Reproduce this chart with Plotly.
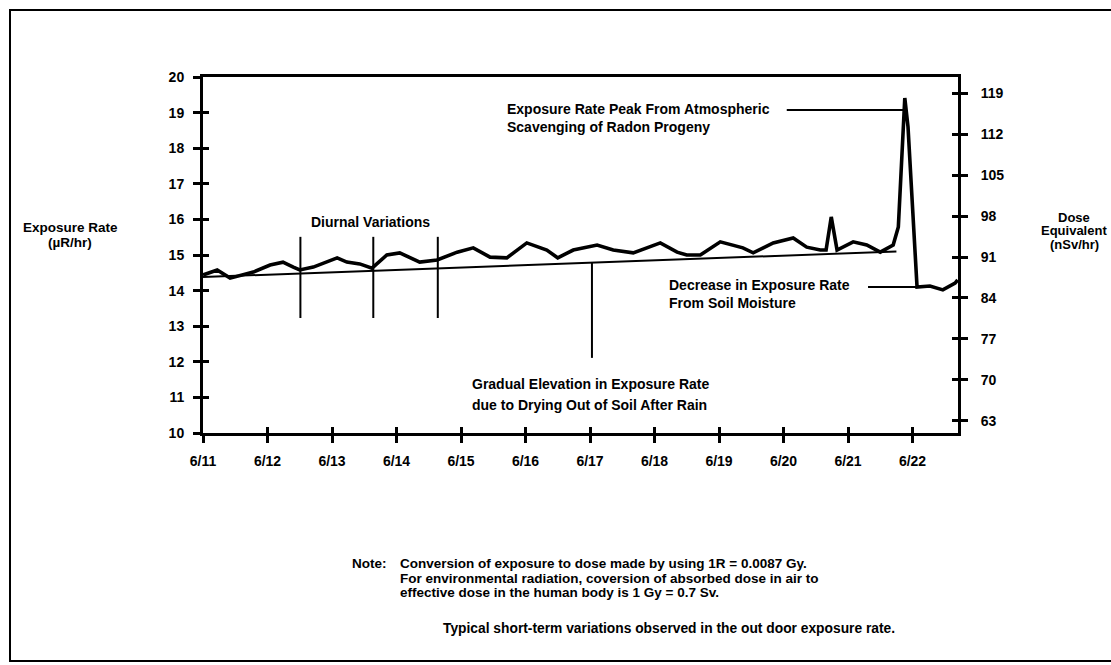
import plotly.graph_objects as go

# ---------------- data ----------------
date_labels = ["6/11", "6/12", "6/13", "6/14", "6/15", "6/16", "6/17",
               "6/18", "6/19", "6/20", "6/21", "6/22"]
date_ticks = list(range(len(date_labels)))          # days after 6/11

days = [0.00, 0.22, 0.42, 0.78, 1.04, 1.24, 1.40, 1.50, 1.71, 1.92,
        2.08, 2.23, 2.43, 2.62, 2.85, 3.05, 3.21, 3.36, 3.63, 3.94,
        4.19, 4.45, 4.71, 5.02, 5.33, 5.50, 5.74, 6.11, 6.36, 6.67,
        7.09, 7.35, 7.50, 7.71, 8.02, 8.37, 8.53, 8.84, 9.15, 9.36,
        9.57, 9.66, 9.74, 9.83, 10.08, 10.29, 10.50, 10.70, 10.78, 10.88,
        10.93, 11.07, 11.27, 11.47, 11.66, 11.70]
exposure = [14.44, 14.58, 14.35, 14.52, 14.72, 14.80, 14.66, 14.58, 14.66, 14.80,
            14.92, 14.80, 14.75, 14.63, 15.00, 15.06, 14.94, 14.80, 14.86, 15.08,
            15.20, 14.94, 14.92, 15.34, 15.14, 14.92, 15.14, 15.28, 15.14, 15.06,
            15.34, 15.08, 15.00, 15.00, 15.37, 15.20, 15.06, 15.34, 15.48, 15.22,
            15.14, 15.14, 16.07, 15.14, 15.37, 15.28, 15.08, 15.28, 15.79, 19.41,
            18.60, 14.10, 14.13, 14.02, 14.21, 14.30]

trend_days = [0.0, 10.75]
trend_exposure = [14.38, 15.10]

exposure_ticks = list(range(10, 21))
dose_ticks = [63, 70, 77, 84, 91, 98, 105, 112, 119]

# conversion: 1 R = 0.0087 Gy, 1 Gy = 0.7 Sv  ->  1 uR/h = 6.09 nSv/h
R_TO_GY = 0.0087
GY_TO_SV = 0.7
conv = R_TO_GY * GY_TO_SV * 1000.0
dose = [v * conv for v in exposure]

# annotation leader lines (days / uR/hr)
diurnal_days = [1.51, 2.64, 3.64]
diurnal_span = [13.23, 15.51]
gradual_day = 6.03
gradual_span = [12.11, 14.78]
peak_leader_days = [9.05, 10.88]
peak_leader_level = 19.07
decrease_leader_days = [10.31, 11.07]
decrease_leader_level = 14.10

X_MAX = 11.705
Y_RANGE = [10, 20]

# ---------------- figure ----------------
W, H = 1111, 665
L, R, T, B = 203, 958, 77, 433


def px(xp):
    return (xp - L) / (R - L)


def py(yp):
    return (B - yp) / (B - T)


FONT = "Liberation Sans, Arial, Helvetica, sans-serif"

fig = go.Figure()

# main line
fig.add_trace(go.Scatter(x=days, y=exposure, mode="lines",
                         line=dict(color="black", width=3.6),
                         hoverinfo="skip", showlegend=False))
# trend line
fig.add_trace(go.Scatter(x=trend_days, y=trend_exposure, mode="lines",
                         line=dict(color="black", width=2),
                         hoverinfo="skip", showlegend=False))

# leader lines
lx, ly = [], []
for d in diurnal_days:
    lx += [d, d, None]
    ly += [diurnal_span[0], diurnal_span[1], None]
lx += [gradual_day, gradual_day, None]
ly += [gradual_span[0], gradual_span[1], None]
lx += [peak_leader_days[0], peak_leader_days[1], None]
ly += [peak_leader_level, peak_leader_level, None]
lx += [decrease_leader_days[0], decrease_leader_days[1], None]
ly += [decrease_leader_level, decrease_leader_level, None]
fig.add_trace(go.Scatter(x=lx, y=ly, mode="lines",
                         line=dict(color="black", width=2),
                         hoverinfo="skip", showlegend=False))

# right axis (dose) - invisible copy of the data so the axis is drawn
fig.add_trace(go.Scatter(x=days, y=dose, mode="lines", yaxis="y2",
                         line=dict(color="rgba(0,0,0,0)", width=0),
                         hoverinfo="skip", showlegend=False))
# helper traces for the inner half of crossing tick marks
fig.add_trace(go.Scatter(x=trend_days, y=trend_exposure, mode="lines",
                         xaxis="x2", yaxis="y3",
                         line=dict(color="rgba(0,0,0,0)", width=0),
                         hoverinfo="skip", showlegend=False))
fig.add_trace(go.Scatter(x=days, y=dose, mode="lines",
                         xaxis="x2", yaxis="y4",
                         line=dict(color="rgba(0,0,0,0)", width=0),
                         hoverinfo="skip", showlegend=False))

tickfont = dict(family=FONT, size=14, color="black", weight="bold")

fig.update_layout(
    width=W, height=H,
    margin=dict(l=L, r=W - R, t=T, b=H - B, pad=0),
    paper_bgcolor="white", plot_bgcolor="white",
    showlegend=False,
    font=dict(family=FONT, color="black"),
    xaxis=dict(range=[0, X_MAX], tickmode="array", tickvals=date_ticks,
               ticktext=date_labels, ticks="outside", ticklen=7, tickwidth=3,
               tickcolor="black", showline=True, linewidth=3, linecolor="black",
               mirror=True, showgrid=False, zeroline=False, tickfont=tickfont,
               ticklabelstandoff=6),
    xaxis2=dict(range=[0, X_MAX], overlaying="x", tickmode="array",
                tickvals=date_ticks, ticks="inside", ticklen=6, tickwidth=3,
                tickcolor="black", showticklabels=False, showline=False,
                showgrid=False, zeroline=False),
    yaxis=dict(range=Y_RANGE, tickmode="array", tickvals=exposure_ticks,
               ticks="outside", ticklen=7, tickwidth=3, tickcolor="black",
               showline=True, linewidth=3, linecolor="black", showgrid=False,
               zeroline=False, tickfont=tickfont, ticklabelstandoff=6),
    yaxis2=dict(range=[Y_RANGE[0] * conv, Y_RANGE[1] * conv], overlaying="y",
                side="right", tickmode="array", tickvals=dose_ticks,
                ticks="outside", ticklen=7, tickwidth=3, tickcolor="black",
                showline=True, linewidth=3, linecolor="black", showgrid=False,
                zeroline=False, tickfont=tickfont, ticklabelstandoff=10),
    yaxis3=dict(range=Y_RANGE, overlaying="y", side="left", tickmode="array",
                tickvals=exposure_ticks, ticks="inside", ticklen=6, tickwidth=3,
                tickcolor="black", showticklabels=False, showline=False,
                showgrid=False, zeroline=False),
    yaxis4=dict(range=[Y_RANGE[0] * conv, Y_RANGE[1] * conv], overlaying="y",
                side="right", tickmode="array", tickvals=dose_ticks,
                ticks="inside", ticklen=6, tickwidth=3, tickcolor="black",
                showticklabels=False, showline=False, showgrid=False,
                zeroline=False),
)

afont = dict(family=FONT, size=14, color="black", weight="bold")


def note(text, x, y, xref="x", yref="y", xanchor="left", size=14):
    fig.add_annotation(text=text, x=x, y=y, xref=xref, yref=yref,
                       xanchor=xanchor, yanchor="middle", showarrow=False,
                       font=dict(afont, size=size), align=xanchor)


# in-plot labels
note("Diurnal Variations", 2.60, 15.93, xanchor="center")
note("Exposure Rate Peak From Atmospheric", 4.68, 19.10)
note("Scavenging of Radon Progeny", 4.68, 18.60)
note("Decrease in Exposure Rate", 7.19, 14.16)
note("From Soil Moisture", 7.19, 13.65)
note("Gradual Elevation in Exposure Rate", 4.14, 11.38)
note("due to Drying Out of Soil After Rain", 4.14, 10.79)

# axis titles
note("Exposure Rate", px(70), py(227), "paper", "paper", "center", 13.5)
note("(\u00b5R/hr)", px(70), py(242), "paper", "paper", "center", 13.5)
note("Dose", px(1074), py(217), "paper", "paper", "center", 13)
note("Equivalent", px(1074), py(231), "paper", "paper", "center", 13)
note("(nSv/hr)", px(1074), py(244), "paper", "paper", "center", 13)

# notes under the chart
note("Note:", px(350), py(563), "paper", "paper", "left", 13.5)
note("Conversion of exposure to dose made by using 1R = 0.0087 Gy.",
     px(398), py(563), "paper", "paper", "left", 13.5)
note("For environmental radiation, coversion of absorbed dose in air to",
     px(398), py(578), "paper", "paper", "left", 13.5)
note("effective dose in the human body is 1 Gy = 0.7 Sv.",
     px(398), py(592), "paper", "paper", "left", 13.5)
note("Typical short-term variations observed in the out door exposure rate.",
     px(669), py(628), "paper", "paper", "center", 13.8)

# outer frame of the figure
fig.add_shape(type="rect", xref="paper", yref="paper",
              x0=px(10), x1=px(1125), y0=py(661), y1=py(10),
              line=dict(color="black", width=2), layer="below")

fig.write_html("out.html",
               config={"displayModeBar": False},
               post_script="document.body.style.margin='0';"
                           "document.body.style.overflow='hidden';")
